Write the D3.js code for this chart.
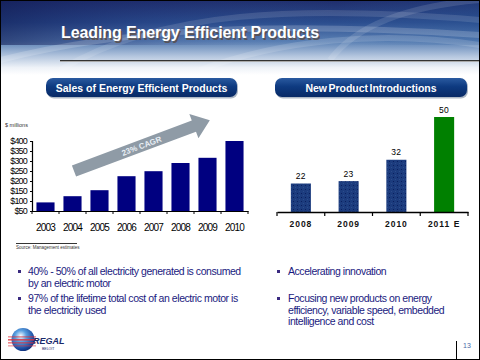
<!DOCTYPE html>
<html><head><meta charset="utf-8">
<script src="https://cdn.jsdelivr.net/npm/d3@7"></script>
<style>
html,body{margin:0;padding:0;background:#fff;}
svg{display:block;}
</style></head>
<body>
<script>
// ---- data ----
const salesYears = ["2003","2004","2005","2006","2007","2008","2009","2010"];
const salesValues = [93, 124, 154, 224, 249, 290, 316, 400];
const salesTicks = [50,100,150,200,250,300,350,400];
const npYears = ["2008","2009","2010","2011 E"];
const npValues = [22, 23, 32, 50];
const npEstimate = [false, false, false, true];
const title = "Leading Energy Efficient Products";
const leftBanner = "Sales of Energy Efficient Products";
const rightBanner = "New Product Introductions";
const leftBullets = [["40% - 50% of all electricity generated is consumed","by an electric motor"],["97% of the lifetime total cost of an electric motor is","the electricity used"]];
const rightBullets = [["Accelerating innovation"],["Focusing new products on energy","efficiency, variable speed, embedded","intelligence and cost"]];

const W=480,H=360;
const svg=d3.select("body").append("svg").attr("width",W).attr("height",H);
const defs=svg.append("defs");
const NARROW="'Liberation Sans Narrow','Arial Narrow','Liberation Sans',Arial,sans-serif";
const SANS="'Liberation Sans',Arial,sans-serif";

// header gradient
const hg=defs.append("linearGradient").attr("id","hg").attr("x1",0).attr("y1",0).attr("x2",0).attr("y2",1);
[[0,"#1f2d6c"],[0.3,"#2b4d8e"],[0.55,"#5a80b4"],[0.75,"#b4c6de"],[0.9,"#eef2f8"],[1,"#ffffff"]].forEach(s=>hg.append("stop").attr("offset",s[0]).attr("stop-color",s[1]));
const hg2=defs.append("linearGradient").attr("id","hg2").attr("x1",0).attr("y1",0).attr("x2",1).attr("y2",0);
[[0,"#0e1850",0.55],[0.35,"#1a2a70",0.15],[0.7,"#3a6aa8",0.0],[1,"#2a5a9a",0.25]].forEach(s=>hg2.append("stop").attr("offset",s[0]).attr("stop-color",s[1]).attr("stop-opacity",s[2]));
svg.append("rect").attr("x",0).attr("y",0).attr("width",W).attr("height",75).attr("fill","url(#hg)");
svg.append("rect").attr("x",0).attr("y",0).attr("width",W).attr("height",45).attr("fill","url(#hg2)");
// faint streaks
[[ "M0,60 C120,30 260,20 480,35",0.18],["M60,70 C160,10 300,5 480,20",0.12],["M200,70 C280,40 380,30 480,45",0.15],["M330,60 C360,20 420,5 480,0",0.12]].forEach(p=>{
  svg.append("path").attr("d",p[0]).attr("fill","none").attr("stroke","#fff").attr("stroke-opacity",p[1]).attr("stroke-width",6);
});

// title
svg.append("text").attr("x",62.5).attr("y",39.5).text(title).attr("font-family",SANS).attr("font-weight","bold").attr("font-size",16).attr("fill","#5a4a40").attr("fill-opacity",0.8).attr("letter-spacing",-0.1);
svg.append("text").attr("x",61).attr("y",38).text(title).attr("font-family",SANS).attr("font-weight","bold").attr("font-size",16).attr("fill","#fff").attr("letter-spacing",-0.1);
svg.append("line").attr("x1",60).attr("x2",480).attr("y1",60.5).attr("y2",60.5).attr("stroke","#333").attr("stroke-width",1);
svg.append("line").attr("x1",60).attr("x2",480).attr("y1",61.5).attr("y2",61.5).attr("stroke","#aaa").attr("stroke-width",1);

// banners
const bg=defs.append("linearGradient").attr("id","bg").attr("x1",0).attr("y1",0).attr("x2",0).attr("y2",1);
[[0,"#2a5aa0"],[0.45,"#0e3a80"],[1,"#082a66"]].forEach(s=>bg.append("stop").attr("offset",s[0]).attr("stop-color",s[1]));
function banner(x,y,w,h,t,ws){
  svg.append("rect").attr("x",x+1).attr("y",y+1.5).attr("width",w).attr("height",h).attr("rx",7).attr("fill","#7a8aa0").attr("opacity",0.6);
  svg.append("rect").attr("x",x).attr("y",y).attr("width",w).attr("height",h).attr("rx",7).attr("fill","url(#bg)");
  svg.append("text").attr("x",x+w/2).attr("y",y+13.5).attr("text-anchor","middle").text(t).attr("font-family",NARROW).attr("font-weight","bold").attr("font-size",10.5).attr("fill","#fff").attr("word-spacing",ws);
}
banner(46,78,191,19,leftBanner,0);
banner(275,78,192,19,rightBanner,-1.5);

// ---- left chart ----
const x1=d3.scaleBand().domain(salesYears).range([32,248]).paddingInner(0.33).paddingOuter(0.165);
const y1=d3.scaleLinear().domain([50,400]).range([211,141]);
svg.append("text").attr("x",5).attr("y",127).text("$ millions").attr("font-family",NARROW).attr("font-size",5.5).attr("fill","#333");

// arrow
const ag=svg.append("g").attr("transform","translate(74,171) rotate(-20.5)");
const L=145, sw=6, hw=13, hl=17;
ag.append("path").attr("d",`M0,${-sw}L${L-hl},${-sw}L${L-hl},${-hw}L${L},0L${L-hl},${hw}L${L-hl},${sw}L0,${sw}Z`).attr("fill","#8f9ba6");
ag.append("text").attr("x",72).attr("y",3).attr("text-anchor","middle").text("23% CAGR").attr("font-family",SANS).attr("font-weight","bold").attr("font-size",8).attr("fill","#e8eef4");

svg.append("g").selectAll("rect").data(salesYears).join("rect")
 .attr("x",d=>x1(d)).attr("width",x1.bandwidth())
 .attr("y",(d,i)=>y1(salesValues[i])).attr("height",(d,i)=>y1(50)-y1(salesValues[i]))
 .attr("fill","#000080");

const ya=svg.append("g").attr("transform","translate(32,0)")
 .call(d3.axisLeft(y1).tickValues(salesTicks).tickFormat(d=>"$"+d).tickSize(2).tickPadding(3));
ya.select(".domain").attr("stroke","#000").attr("stroke-width",1.2);
ya.selectAll("text").attr("font-family",NARROW).attr("font-size",9).attr("fill","#000").attr("letter-spacing",-0.8);
const xa=svg.append("g").attr("transform","translate(0,211)")
 .call(d3.axisBottom(x1).tickSize(0).tickPadding(13));
xa.select(".domain").attr("stroke","#000").attr("stroke-width",1.2);
xa.selectAll("text").attr("font-family",NARROW).attr("font-size",10).attr("fill","#000").attr("letter-spacing",-0.8);
xa.append("g").selectAll("line").data(d3.range(salesYears.length+1)).join("line")
 .attr("x1",i=>32+i*x1.step()).attr("x2",i=>32+i*x1.step()).attr("y1",0).attr("y2",3).attr("stroke","#000");

// source
svg.append("line").attr("x1",16).attr("x2",77).attr("y1",243.5).attr("y2",243.5).attr("stroke","#000").attr("stroke-width",0.8);
svg.append("text").attr("x",16).attr("y",249).text("Source:  Management  estimates").attr("font-family",NARROW).attr("font-size",4.5).attr("fill","#333");

// ---- right chart ----
const pat=defs.append("pattern").attr("id","dots").attr("width",4).attr("height",4).attr("patternUnits","userSpaceOnUse");
pat.append("rect").attr("width",4).attr("height",4).attr("fill","#1c3c7e");
pat.append("rect").attr("x",1).attr("y",1).attr("width",1).attr("height",1).attr("fill","#0a1f5e");
pat.append("rect").attr("x",3).attr("y",3).attr("width",1).attr("height",1).attr("fill","#2c4c8c");
const x2=d3.scaleBand().domain(npYears).range([277,468]).paddingInner(0.58).paddingOuter(0.29);
const y2=d3.scaleLinear().domain([10,50]).range([212,117]);
svg.append("g").selectAll("rect").data(npYears).join("rect")
 .attr("x",d=>x2(d)).attr("width",x2.bandwidth())
 .attr("y",(d,i)=>y2(npValues[i])).attr("height",(d,i)=>y2(10)-y2(npValues[i]))
 .attr("fill",(d,i)=>npEstimate[i]?"#008000":"url(#dots)");
svg.append("g").selectAll("text").data(npYears).join("text")
 .attr("x",d=>x2(d)+x2.bandwidth()/2).attr("y",(d,i)=>y2(npValues[i])-4.5)
 .attr("text-anchor","middle").text((d,i)=>npValues[i])
 .attr("font-family",SANS).attr("font-size",8.5).attr("fill","#000").attr("letter-spacing",0.5);
const xa2=svg.append("g").attr("transform","translate(0,212)")
 .call(d3.axisBottom(x2).tickSize(0).tickPadding(9));
xa2.select(".domain").attr("stroke","#000").attr("stroke-width",1.5);
xa2.selectAll("text").attr("font-family",SANS).attr("font-size",8.5).attr("font-weight","bold").attr("fill","#111").attr("letter-spacing",1.0);
xa2.append("g").selectAll("line").data(d3.range(npYears.length+1)).join("line")
 .attr("x1",i=>277+i*x2.step()).attr("x2",i=>277+i*x2.step()).attr("y1",0).attr("y2",4).attr("stroke","#000").attr("stroke-width",1.2);

// ---- bullets ----
function bullets(list,xb,xt,starts){
  list.forEach((lines,k)=>{
    svg.append("rect").attr("x",xb).attr("y",starts[k]-5).attr("width",3).attr("height",3).attr("fill","#3a2a80");
    lines.forEach((ln,j)=>{
      svg.append("text").attr("x",xt).attr("y",starts[k]+j*11.5).text(ln).attr("font-family",SANS).attr("font-size",10.5).attr("fill","#1a1a80").attr("letter-spacing",-0.45);
    });
  });
}
bullets(leftBullets,18,28,[275,302]);
bullets(rightBullets,277,288,[275,302]);

// ---- logo ----
const lg=defs.append("radialGradient").attr("id","lg").attr("cx",0.4).attr("cy",0.35).attr("r",0.7);
[[0,"#ffffff"],[0.35,"#5aa0e0"],[0.8,"#1a4aa0"],[1,"#0e2a70"]].forEach(s=>lg.append("stop").attr("offset",s[0]).attr("stop-color",s[1]));
svg.append("circle").attr("cx",23).attr("cy",339.5).attr("r",11.5).attr("fill","url(#lg)");
[[336,0.5],[339,0.8],[342,0.6],[345,0.4]].forEach(s=>svg.append("rect").attr("x",8).attr("y",s[0]).attr("width",28).attr("height",1.6).attr("fill","#e0303a").attr("opacity",s[1]));
svg.append("text").attr("x",33).attr("y",344).text("REGAL").attr("font-family",SANS).attr("font-weight","bold").attr("font-style","italic").attr("font-size",9).attr("fill","#1a2a6a");
svg.append("text").attr("x",42).attr("y",349.5).text("BELOIT").attr("font-family",SANS).attr("font-size",3.5).attr("fill","#1a2a6a");

// page number
svg.append("line").attr("x1",456.5).attr("x2",456.5).attr("y1",341).attr("y2",359).attr("stroke","#000").attr("stroke-width",1);
svg.append("text").attr("x",463).attr("y",348).text("13").attr("font-family",SANS).attr("font-size",7).attr("fill","#4a6aa8");

// border
svg.append("rect").attr("x",0.5).attr("y",0.5).attr("width",W-1).attr("height",H-1).attr("fill","none").attr("stroke","#000").attr("stroke-width",1);
</script>
</body></html>
